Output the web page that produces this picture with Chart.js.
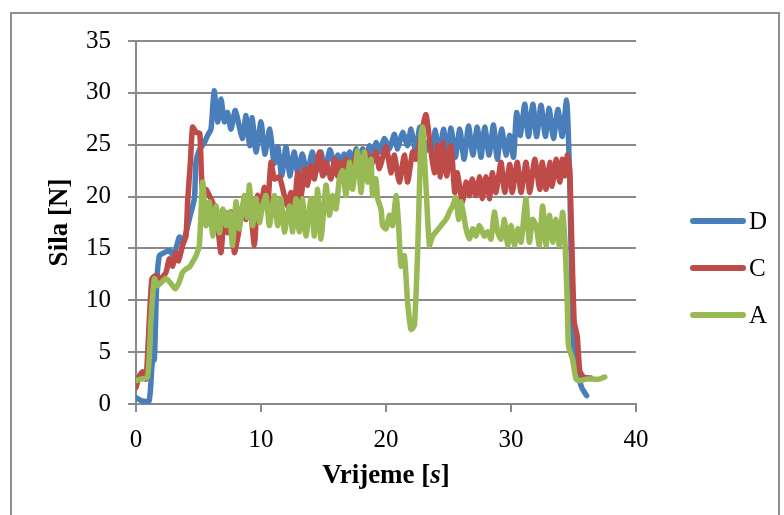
<!DOCTYPE html>
<html>
<head>
<meta charset="utf-8">
<script src="https://cdn.jsdelivr.net/npm/chart.js@4/dist/chart.umd.min.js"></script>
<style>
  body { margin: 0; background: #fff; }
  #wrap { position: relative; width: 784px; height: 515px; overflow: hidden; }
  #okvir { position: absolute; left: 10px; top: 12px; width: 766px; height: 520px; border: 2px solid #8e8e8e; }
  #grafikon { position: absolute; left: 0; top: 0; }
  #legenda { position: absolute; left: 690px; top: 0; font-family: 'Liberation Serif', serif; font-size: 25px; color: #000; }
  .stavka { position: absolute; left: 0; height: 30px; display: flex; align-items: center; white-space: nowrap; }
  .crta { width: 56px; height: 6px; border-radius: 3px; margin-right: 3px; }
</style>
</head>
<body>
<div id="wrap">
  <div id="okvir"></div>
  <canvas id="grafikon" width="784" height="515"></canvas>
  <div id="legenda"></div>
</div>
<script>
// Sila [N] u ovisnosti o vremenu [s] - parovi [vrijeme, sila]
const silaD = [
  [0,0.6],[0.5,0.3],[1.05,0.3],[1.3,4],[1.47,4.3],[1.65,11.4],[1.87,14.3],[2.27,14.6],[2.67,14.8],[2.93,14.4],
  [3.2,15],[3.47,16.1],[3.7,15.6],[4.0,16.5],[4.3,18],[4.67,19.8],[4.8,23.3],[5.07,24.5],[5.47,25.2],[5.73,25.9],
  [6.0,26.5],[6.25,30.2],[6.53,27.2],[6.8,29.4],[7.07,27.2],[7.33,28.1],[7.6,26.5],[7.95,28.3],[8.5,25.6],[8.8,27.8],
  [9.1,24.9],[9.3,27.6],[9.6,24.3],[10.0,27.2],[10.3,24.1],[10.7,26.5],[11.05,23.2],[11.35,24.8],[11.65,22],[12.0,24.8],
  [12.3,22],[12.65,24.3],[12.95,22.2],[13.3,24.1],[13.7,22.2],[14.1,24.3],[14.4,22.4],[14.8,24.3],[15.1,22.2],[15.5,24.5],
  [15.9,23],[16.15,24],[16.4,23],[16.65,24.1],[16.9,23.4],[17.1,24.3],[17.33,23.3],[17.6,24.6],[17.87,23.5],[18.13,24.6],
  [18.4,23.6],[18.67,24.9],[18.93,23.9],[19.2,25.2],[19.47,24.3],[19.87,25.6],[20.27,24.6],[20.67,26],[20.93,24.6],[21.33,26.2],
  [21.73,24.9],[22.0,26.5],[22.4,24.3],[22.7,26.7],[23.1,24.3],[23.5,25.5],[23.7,24.2],[23.95,26.4],[24.25,23.8],[24.6,26.5],
  [24.9,23.9],[25.2,26.6],[25.55,23.8],[25.9,26.5],[26.25,23.6],[26.6,26.8],[26.95,24],[27.3,26.7],[27.6,23.8],[27.9,26.7],
  [28.25,24],[28.6,26.9],[28.9,23.6],[29.25,26.5],[29.6,24],[29.9,25.9],[30.2,23.8],[30.45,28.1],[30.75,25.9],[31.1,28.9],
  [31.4,25.8],[31.75,28.9],[32.05,25.8],[32.4,28.8],[32.75,25.8],[33.05,28.5],[33.4,25.6],[33.75,28.4],[34.1,25.8],[34.45,29.3],
  [34.6,25.5],[34.7,21.5],[34.85,11.9],[35.0,5.4],[35.25,3.5],[35.65,1.6],[36.05,0.8]
];

const silaC = [
  [0,1.6],[0.27,2.7],[0.53,3.1],[0.8,2.4],[1.07,8.2],[1.28,12.1],[1.6,12.4],[2.0,12.1],[2.4,12.7],[2.67,14],
  [2.93,13.3],[3.2,14.6],[3.4,13.8],[3.73,15.3],[4.0,16.2],[4.13,19.5],[4.35,23.3],[4.53,26.7],[4.8,26.2],[5.1,26.1],
  [5.3,20.8],[5.6,20.7],[5.87,20.1],[6.27,19],[6.53,17.2],[6.8,14.6],[7.07,18.5],[7.33,16.5],[7.6,18.5],[7.87,14.6],
  [8.2,16.5],[8.53,19.1],[8.8,17.8],[9.07,19.8],[9.47,15.3],[9.73,20.1],[10.0,19],[10.27,20.9],[10.53,19.1],[10.8,23.3],
  [11.07,21.7],[11.47,21.9],[11.87,20.1],[12.13,19.1],[12.4,20.4],[12.67,19.1],[12.93,22.3],[13.2,19.8],[13.47,22.7],[13.73,21.1],
  [14.0,23],[14.27,21.7],[14.67,24.3],[14.93,22],[15.2,23.3],[15.6,21.7],[15.87,23.6],[16.1,22],[16.3,23.3],[16.53,22],
  [16.8,23.6],[17.2,22.3],[17.6,24],[18.0,22.3],[18.4,24.3],[18.8,23],[19.2,24.3],[19.47,22.7],[20.0,24.8],[20.4,22.3],
  [20.67,24],[21.07,21.4],[21.47,24],[21.73,21.4],[22.13,24.3],[22.4,23.6],[22.8,25.9],[23.2,27.9],[23.6,24.3],[23.9,22.3],
  [24.15,24.9],[24.35,21.9],[24.55,25.2],[24.85,22],[25.2,24.9],[25.5,20.4],[25.7,22.3],[26.1,19.5],[26.4,21.4],[26.7,20.1],
  [26.9,21.7],[27.2,20.1],[27.5,21.9],[27.7,19.8],[28.0,21.9],[28.3,19.8],[28.5,22.3],[28.8,20.4],[29.2,23.3],[29.5,20.4],
  [29.9,23.1],[30.1,20.4],[30.5,23.3],[30.8,20.4],[31.2,23.3],[31.5,20.4],[31.9,23.6],[32.3,20.7],[32.5,23.3],[32.8,20.7],
  [33.1,23.3],[33.3,21],[33.6,23.6],[33.9,21.4],[34.1,23.6],[34.3,22],[34.5,24],[34.7,22.5],[35.05,8],[35.3,6.5],
  [35.5,3.2],[35.8,2.6],[36.4,2.5]
];

const silaA = [
  [0,2.25],[0.4,2.4],[0.93,2.6],[1.2,8.2],[1.47,12.1],[1.73,11.4],[2.0,11.7],[2.4,12.1],[2.8,11.6],[3.15,11.1],
  [3.47,11.8],[3.73,12.7],[4.0,13],[4.27,13.2],[4.53,13.7],[4.8,14.3],[5.07,15.3],[5.33,21.4],[5.6,17.2],[5.87,19.5],
  [6.13,16.2],[6.4,19.1],[6.67,16.5],[6.93,18.8],[7.2,17.2],[7.47,18.5],[7.73,15.3],[8.0,19.5],[8.27,16.9],[8.67,20.1],
  [8.9,18],[9.07,21.1],[9.33,17.2],[9.6,19.8],[9.87,17.5],[10.13,19.1],[10.4,20.1],[10.67,17.2],[11.07,20.1],[11.33,17.2],
  [11.6,19.8],[11.87,16.6],[12.27,19.1],[12.53,16.6],[12.8,19.8],[13.07,16.6],[13.33,19.8],[13.6,16.2],[14.0,19.8],[14.27,16.2],
  [14.53,20.7],[14.8,15.9],[15.2,21.1],[15.47,18.2],[15.73,20.1],[16.0,18.8],[16.27,21.7],[16.53,22.5],[16.8,20.1],[17.07,23.3],
  [17.33,20.7],[17.73,24.4],[18.0,20.4],[18.27,24.3],[18.53,21.4],[18.8,23.6],[18.93,20.1],[19.2,21.7],[19.33,19.8],[19.6,18.8],
  [19.73,17.2],[20.0,16.9],[20.27,18.2],[20.53,17.2],[20.8,20.1],[21.0,17.5],[21.2,13.3],[21.47,14.3],[21.73,9.8],[22.0,7.2],
  [22.27,7.6],[22.53,14.6],[22.8,25.9],[22.93,26.7],[23.2,21],[23.47,15.3],[23.73,16.2],[24.0,16.6],[24.4,17.2],[24.8,17.8],
  [25.07,18.5],[25.33,19.1],[25.6,19.9],[25.8,17.8],[26.0,19.5],[26.4,16.9],[26.67,15.9],[26.93,16.9],[27.2,16.2],[27.47,17.2],
  [27.87,16.2],[28.13,16.6],[28.4,15.9],[28.67,18.5],[28.93,16.6],[29.2,15.9],[29.47,17.8],[29.73,15.3],[30.0,17.2],[30.27,15.3],
  [30.53,16.9],[30.8,15.6],[31.07,18.5],[31.2,19.8],[31.47,15.6],[31.73,17.8],[32.0,17.2],[32.27,15.3],[32.53,19.1],[32.8,15.3],
  [33.07,18.2],[33.33,15.6],[33.6,17.8],[33.87,15.3],[34.13,18.5],[34.33,15.3],[34.5,9.8],[34.6,5.6],[34.93,4.3],[35.2,2.4],
  [35.5,2.25],[36.0,2.4],[36.5,2.4],[37.07,2.4],[37.5,2.6]
];

const nazivi = ['D', 'C', 'A'];
const boje = ['#4a7ebb', '#be4b48', '#98b954'];
const yTicks = [0, 5, 10, 15, 20, 25, 30, 35];
const xTicks = [0, 10, 20, 30, 40];

const font = 'Liberation Serif';
const siva = '#8a8a8a';

// naslov x osi (s u kurzivu)
const xNaslov = {
  id: 'xNaslov',
  afterDraw(chart) {
    const c = chart.ctx, a = chart.chartArea;
    const dijelovi = [['Vrijeme [', 'bold'], ['s', 'italic bold'], [']', 'bold']];
    c.save();
    c.fillStyle = '#000';
    c.textBaseline = 'middle';
    let w = 0;
    dijelovi.forEach(d => { c.font = d[1] + ' 27px "' + font + '"'; w += c.measureText(d[0]).width; });
    let x = (a.left + a.right) / 2 - w / 2;
    dijelovi.forEach(d => {
      c.font = d[1] + ' 27px "' + font + '"';
      c.fillText(d[0], x, 476);
      x += c.measureText(d[0]).width;
    });
    c.restore();
  }
};

const serije = [silaD, silaC, silaA];
const ctx = document.getElementById('grafikon').getContext('2d');
new Chart(ctx, {
  type: 'line',
  data: {
    datasets: serije.map((s, i) => ({
      label: nazivi[i],
      data: s.map(p => ({ x: p[0], y: p[1] })),
      borderColor: boje[i],
      backgroundColor: boje[i],
      borderWidth: 5.5,
      pointRadius: 0,
      tension: 0.2,
      borderJoinStyle: 'round',
      borderCapStyle: 'round',
      order: 3 - i
    }))
  },
  options: {
    responsive: false,
    animation: false,
    layout: { padding: { left: 44, right: 148, top: 41, bottom: 0 } },
    plugins: { legend: { display: false }, tooltip: { enabled: false } },
    scales: {
      x: {
        type: 'linear', min: 0, max: 40,
        afterBuildTicks: s => { s.ticks = xTicks.map(v => ({ value: v })); },
        ticks: { color: '#000', font: { family: font, size: 25 }, padding: 13 },
        grid: { drawOnChartArea: false, tickLength: 8, color: siva, lineWidth: 2 },
        border: { color: siva, width: 2 },
        afterFit: s => { s.height = 111; }
      },
      y: {
        min: 0, max: 35,
        afterBuildTicks: s => { s.ticks = yTicks.map(v => ({ value: v })); },
        ticks: { color: '#000', font: { family: font, size: 25 }, padding: 17 },
        grid: { color: siva, lineWidth: 2, tickLength: 8 },
        border: { color: siva, width: 2 },
        title: { display: true, text: 'Sila [N]', color: '#000', font: { family: font, size: 27, weight: 'bold' }, padding: 0 },
        afterFit: s => { s.width = 92; }
      }
    }
  },
  plugins: [xNaslov]
});

// legenda desno
const centri = [221, 268, 315];
const leg = document.getElementById('legenda');
nazivi.forEach((n, i) => {
  const st = document.createElement('div');
  st.className = 'stavka';
  st.style.top = (centri[i] - 15) + 'px';
  st.innerHTML = '<span class="crta" style="background:' + boje[i] + '"></span><span>' + n + '</span>';
  leg.appendChild(st);
});
</script>
</body>
</html>
